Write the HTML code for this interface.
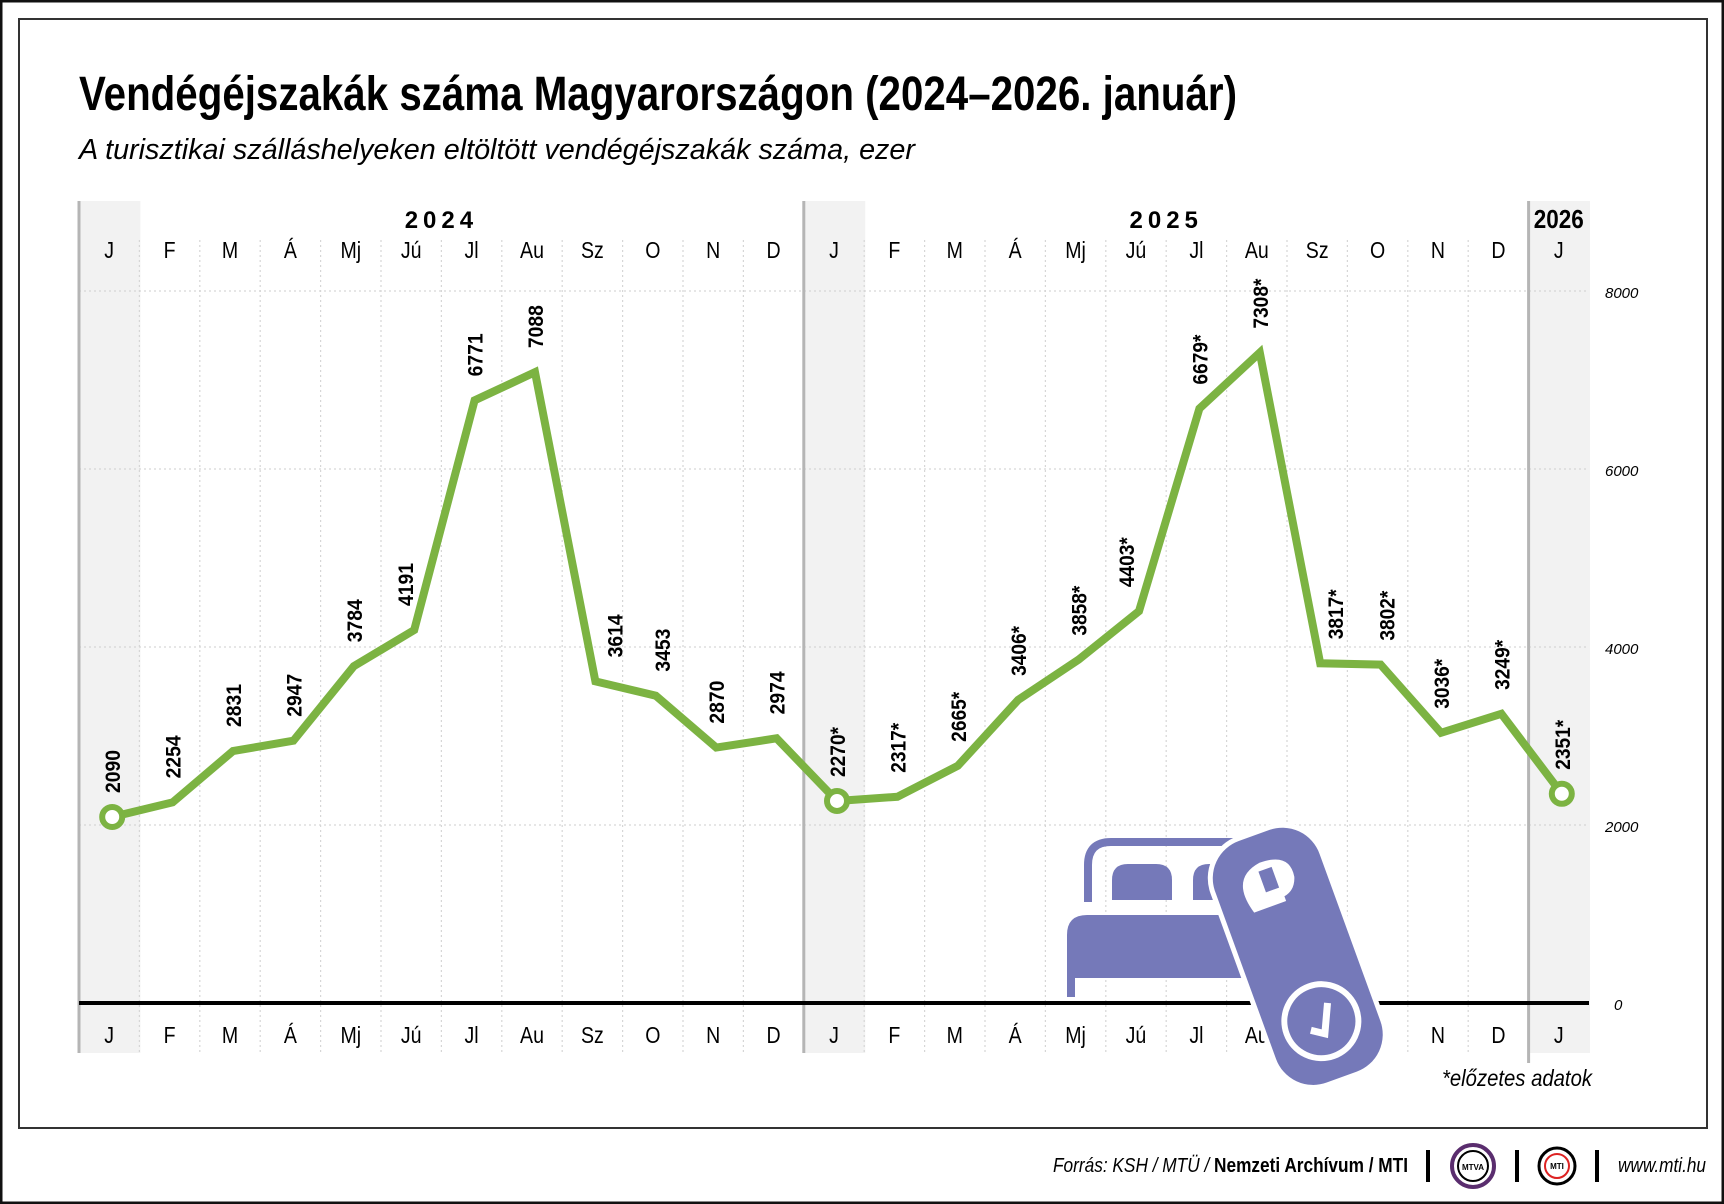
<!DOCTYPE html>
<html><head><meta charset="utf-8"><style>html,body{margin:0;padding:0;background:#fff}svg{display:block}</style></head><body>
<svg width="1724" height="1204" viewBox="0 0 1724 1204" xmlns="http://www.w3.org/2000/svg" font-family="Liberation Sans, sans-serif">
<rect x="1" y="1" width="1722" height="1202" fill="#fff" stroke="#111" stroke-width="3"/>
<rect x="19" y="19" width="1688" height="1109" fill="#fff" stroke="#333" stroke-width="2"/>
<text x="79" y="110" font-size="48" font-weight="bold" textLength="1158" lengthAdjust="spacingAndGlyphs">Vendégéjszakák száma Magyarországon (2024–2026. január)</text>
<text x="79" y="159" font-size="29" font-style="italic" textLength="836" lengthAdjust="spacingAndGlyphs">A turisztikai szálláshelyeken eltöltött vendégéjszakák száma, ezer</text>
<g id="plot"></g>
</svg>
<script>
(function(){
var ns="http://www.w3.org/2000/svg",g=document.getElementById("plot");
function el(t,a,txt){var e=document.createElementNS(ns,t);for(var k in a)e.setAttribute(k,a[k]);if(txt!==undefined)e.textContent=txt;g.appendChild(e);return e;}
var x0=79,w=60.4,z=1003,s=0.089;
[0,12,24].forEach(function(i){el("rect",{x:x0+i*w,y:201,width:w+1,height:852,fill:"#f2f2f2"});});
for(var i=1;i<25;i++){if(i==12||i==24)continue;el("line",{x1:x0+i*w,y1:240,x2:x0+i*w,y2:1053,stroke:"#d6d6d6","stroke-width":1.2,"stroke-dasharray":"2,3"});}
[2000,4000,6000,8000].forEach(function(v){var y=z-v*s;el("line",{x1:x0,y1:y,x2:x0+25*w,y2:y,stroke:"#d6d6d6","stroke-width":1.2,"stroke-dasharray":"2,3"});el("text",{x:1605,y:y+7,"font-size":15,"font-style":"italic"},v);});
el("text",{x:1614,y:z+7,"font-size":15,"font-style":"italic"},"0");
[[0,1053],[12,1053],[24,1063]].forEach(function(p){el("line",{x1:x0+p[0]*w,y1:201,x2:x0+p[0]*w,y2:p[1],stroke:"#b5b5b5","stroke-width":3});});
var m=["J","F","M","Á","Mj","Jú","Jl","Au","Sz","O","N","D"];
for(var i=0;i<25;i++){var cx=x0+(i+0.5)*w,l=m[i%12];
el("text",{x:cx,y:258,"font-size":23,"text-anchor":"middle",transform:"translate("+cx+" 0) scale(0.85 1) translate("+(-cx)+" 0)"},l);
el("text",{x:cx,y:1043,"font-size":23,"text-anchor":"middle",transform:"translate("+cx+" 0) scale(0.85 1) translate("+(-cx)+" 0)"},l);}
el("text",{x:x0+6*w,y:228,"font-size":24,"font-weight":"bold","text-anchor":"middle","letter-spacing":"5"},"2024");
el("text",{x:x0+18*w,y:228,"font-size":24,"font-weight":"bold","text-anchor":"middle","letter-spacing":"5"},"2025");
el("text",{x:x0+24.5*w,y:228,"font-size":26,"font-weight":"bold","text-anchor":"middle",textLength:50,lengthAdjust:"spacingAndGlyphs"},"2026");
el("line",{x1:x0,y1:z,x2:x0+25*w,y2:z,stroke:"#000","stroke-width":4});
var v=[2090,2254,2831,2947,3784,4191,6771,7088,3614,3453,2870,2974,2270,2317,2665,3406,3858,4403,6679,7308,3817,3802,3036,3249,2351];
var pts=v.map(function(d,i){return [x0+(i+0.5)*w+3,z-d*s];});
el("polyline",{points:pts.map(function(p){return p.join(",")}).join(" "),fill:"none",stroke:"#7cb342","stroke-width":8,"stroke-linejoin":"miter"});
[0,12,24].forEach(function(i){el("circle",{cx:pts[i][0],cy:pts[i][1],r:10,fill:"#fff",stroke:"#7cb342","stroke-width":6});});
var dx={5:-9,8:19,9:6,17:-13,20:15,21:6};
v.forEach(function(d,i){var t=d+(i>=12?"*":""),x=pts[i][0]+8+(dx[i]||0),y=pts[i][1]-24;
el("text",{x:x,y:y,"font-size":21,"font-weight":"bold",transform:"rotate(-90 "+x+" "+y+")",textLength:(i>=12?50:43),lengthAdjust:"spacingAndGlyphs"},t);});
var P="#7579b9";
el("path",{d:"M1088 902 V865 Q1088 842 1111 842 H1258 Q1281 842 1281 865 V902",fill:"none",stroke:P,"stroke-width":8});
el("path",{d:"M1112 900 V880 Q1112 864 1128 864 H1156 Q1172 864 1172 880 V900 Z",fill:P});
el("path",{d:"M1193 900 V880 Q1193 864 1209 864 H1229 Q1245 864 1245 880 V900 Z",fill:P});
el("path",{d:"M1067 997 V935 Q1067 915 1087 915 H1300 V978 H1075 V997 Z",fill:P});
var hg=el("g",{transform:"translate(-16 -14) rotate(-20 1310 960)"});
function he(t,a){var e=document.createElementNS(ns,t);for(var k in a)e.setAttribute(k,a[k]);hg.appendChild(e);return e;}
he("rect",{x:1252,y:840,width:116,height:262,rx:42,fill:P,stroke:"#fff","stroke-width":5});
he("path",{d:"M1284 915 Q1272 875 1306 870 Q1338 870 1334 895 Q1330 908 1318 910 V915 Z",fill:"#fff"});
he("rect",{x:1302,y:878,width:14,height:22,fill:P});
he("circle",{cx:1310,cy:1040,r:37,fill:"none",stroke:"#fff","stroke-width":6});
he("path",{d:"M1297 1045 L1309 1053 L1322 1025",fill:"none",stroke:"#fff","stroke-width":7});
el("text",{x:1592,y:1086,"font-size":23,"font-style":"italic","text-anchor":"end",textLength:150,lengthAdjust:"spacingAndGlyphs"},"*előzetes adatok");
var f=el("text",{x:1408,y:1172,"font-size":20,"text-anchor":"end",textLength:355,lengthAdjust:"spacingAndGlyphs"});
f.innerHTML='<tspan font-style="italic">Forrás: KSH / MTÜ / </tspan><tspan font-weight="bold">Nemzeti Archívum / MTI</tspan>';
[1428,1517,1597].forEach(function(x){el("line",{x1:x,y1:1150,x2:x,y2:1182,stroke:"#000","stroke-width":4});});
el("circle",{cx:1473,cy:1166,r:21,fill:"#fff",stroke:"#5a2d6e","stroke-width":4});
el("circle",{cx:1473,cy:1166,r:15,fill:"none",stroke:"#000","stroke-width":2});
el("text",{x:1473,y:1170,"font-size":8,"font-weight":"bold","text-anchor":"middle"},"MTVA");
el("circle",{cx:1557,cy:1166,r:18,fill:"#fff",stroke:"#000","stroke-width":3});
el("circle",{cx:1557,cy:1166,r:12,fill:"none",stroke:"#d22","stroke-width":2});
el("text",{x:1557,y:1169,"font-size":8,"font-weight":"bold","text-anchor":"middle"},"MTI");
el("text",{x:1706,y:1172,"font-size":20,"font-style":"italic","text-anchor":"end",textLength:88,lengthAdjust:"spacingAndGlyphs"},"www.mti.hu");
})();
</script>
</body></html>
